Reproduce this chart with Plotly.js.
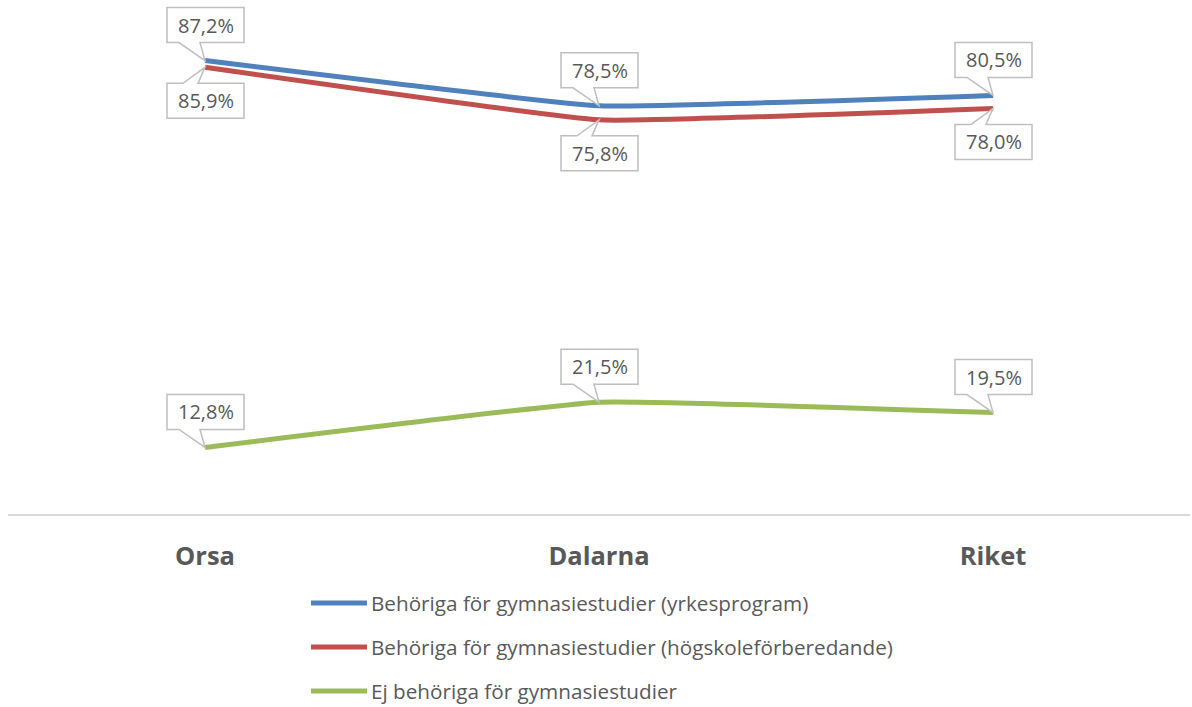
<!DOCTYPE html>
<html>
<head>
<meta charset="utf-8">
<script src="https://cdn.plot.ly/plotly-3.0.1.min.js"></script>
<style>
  html, body { margin: 0; padding: 0; background: #fff; }
  #chart { width: 1192px; height: 707px; }
</style>
</head>
<body>
<div id="chart"></div>
<script>
    // Data
    const categories = ['Orsa', 'Dalarna', 'Riket'];
    const seriesNames = [
        'Behöriga för gymnasiestudier (yrkesprogram)',
        'Behöriga för gymnasiestudier (högskoleförberedande)',
        'Ej behöriga för gymnasiestudier'
    ];
    const yrkesprogram = [87.2, 78.5, 80.5];
    const hogskoleforb = [85.9, 75.8, 78.0];
    const ejBehoriga = [12.8, 21.5, 19.5];

    const seriesValues = [yrkesprogram, hogskoleforb, ejBehoriga];
    const seriesColors = ['#4f81bd', '#c0504d', '#9bbb59'];
    // label position per series: callout above (true) or below (false)
    const labelAbove = [true, false, true];

    const textColor = '#595959';
    const fontFam = '"Open Sans", "Noto Sans", sans-serif';

    const W = 1192, H = 707;
    const M = { l: 8, r: 2, t: 0, b: 193 };
    const plotW = W - M.l - M.r, plotH = H - M.t - M.b;
    // pixel -> paper helpers (for the legend block below the axis)
    const px = x => (x - M.l) / plotW;
    const py = y => (H - M.b - y) / plotH;

    const fmt = v => v.toFixed(1).replace('.', ',') + '%';

    const traces = seriesValues.map((vals, s) => ({
        x: categories,
        y: vals,
        type: 'scatter',
        mode: 'lines',
        name: seriesNames[s],
        line: { color: seriesColors[s], width: 5, shape: 'spline', smoothing: 0.3 },
        hoverinfo: 'skip',
        showlegend: false
    }));

    // Callout boxes (pixel-sized paths anchored at each data point)
    const calloutAbove = 'M-38,18 H-26 L0,0 L-5,18 H39 V53 H-38 Z';
    const calloutBelow = 'M-38,-16 H-22 L0,0 L-7,-16 H39 V-51 H-38 Z';

    const shapes = [];
    const annotations = [];
    seriesValues.forEach((vals, s) => {
        vals.forEach((v, i) => {
            shapes.push({
                type: 'path',
                xref: 'x', yref: 'y',
                xsizemode: 'pixel', ysizemode: 'pixel',
                xanchor: i, yanchor: v,
                path: labelAbove[s] ? calloutAbove : calloutBelow,
                fillcolor: '#ffffff',
                line: { color: '#bfbfbf', width: 1.5 },
                layer: 'above'
            });
            annotations.push({
                x: i, y: v, xref: 'x', yref: 'y',
                text: fmt(v),
                showarrow: false,
                xshift: 0.5,
                yshift: labelAbove[s] ? 35.5 : -33.5,
                font: { family: fontFam, size: 20, color: textColor }
            });
        });
    });

    // Legend (drawn by hand so it sits exactly under the axis labels)
    seriesNames.forEach((name, s) => {
        const yy = 603 + s * 44;
        shapes.push({
            type: 'line', xref: 'paper', yref: 'paper',
            x0: px(311), x1: px(367), y0: py(yy), y1: py(yy),
            line: { color: seriesColors[s], width: 5 }
        });
        annotations.push({
            xref: 'paper', yref: 'paper',
            x: px(369), y: py(yy),
            xanchor: 'left', yanchor: 'middle',
            text: name, showarrow: false,
            font: { family: fontFam, size: 20.7, color: textColor }
        });
    });

    const layout = {
        width: W,
        height: H,
        margin: M,
        paper_bgcolor: '#ffffff',
        plot_bgcolor: '#ffffff',
        font: { family: fontFam, color: textColor },
        xaxis: {
            type: 'category',
            range: [-0.5, 2.5],
            showgrid: false,
            zeroline: false,
            showline: true,
            linecolor: '#d9d9d9',
            linewidth: 2,
            ticks: '',
            ticklabelstandoff: 18,
            tickfont: { family: fontFam, size: 25.5, color: textColor, weight: 700 },
            fixedrange: true
        },
        yaxis: {
            range: [0, 98.85],
            visible: false,
            showgrid: false,
            zeroline: false,
            fixedrange: true
        },
        showlegend: false,
        shapes: shapes,
        annotations: annotations,
        hovermode: false
    };

    Plotly.newPlot('chart', traces, layout, { displayModeBar: false, staticPlot: true });
</script>
</body>
</html>
